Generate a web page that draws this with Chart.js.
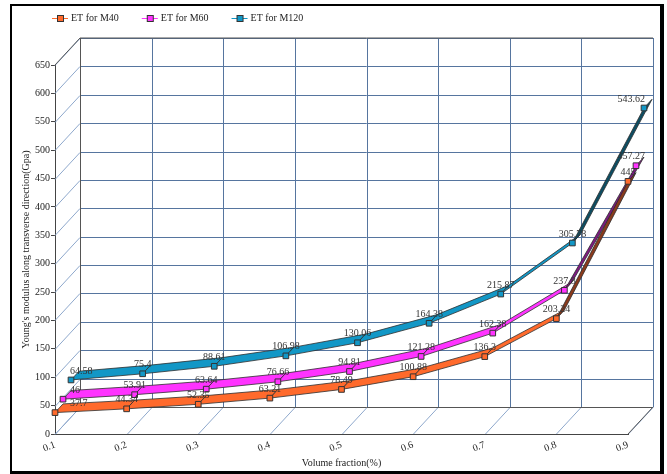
<!DOCTYPE html>
<html>
<head>
<meta charset="utf-8">
<script src="https://cdn.jsdelivr.net/npm/chart.js@4.4.0/dist/chart.umd.min.js"></script>
<style>
  html, body { margin: 0; padding: 0; background: #fff; }
  #wrap { position: relative; width: 667px; height: 474px; }
  #wrap canvas { position: absolute; left: 0; top: 0; }
  #frame {
    position: absolute; left: 10px; top: 4px; width: 648px; height: 465px;
    border: 2px solid #000; border-right-width: 4px; border-bottom-width: 3px;
    pointer-events: none;
  }
</style>
</head>
<body>
<div id="wrap">
  <canvas id="chart" width="667" height="474"></canvas>
  <div id="frame"></div>
</div>
<script>
// data
const fractions = ["0.1", "0.2", "0.3", "0.4", "0.5", "0.6", "0.7", "0.8", "0.9"];
const seriesNames = ["ET for M40", "ET for M60", "ET for M120"];
const m40 = [37.7, 44.34, 52.35, 63.21, 78.49, 100.88, 136.3, 203.24, 445];
const m60 = [46, 53.91, 63.64, 76.66, 94.81, 121.28, 162.38, 237.8, 457.27];
const m120 = [64.58, 75.4, 88.61, 106.98, 130.06, 164.38, 215.87, 305.78, 543.62];
const yMax = 650;
const yStep = 50;

const colors = ["#ff6a2c", "#ff33ff", "#1297c6"];
const darkColors = ["#8a3a1c", "#7d1a80", "#0d4d62"];
const serif = "'Liberation Serif', 'DejaVu Serif', serif";

// 3d look: wall depth, and each series ribbon sits a bit deeper
const wallDepth = { x: 25, y: -27 };
const ribbon = { x: 8, y: -8.7 };

let wall3d = {
  id: "wall3d",
  beforeDatasetsDraw(chart) {
    const ctx = chart.ctx;
    const xs = chart.scales.x, ys = chart.scales.y;
    const a = chart.chartArea;
    const dx = wallDepth.x, dy = wallDepth.y;
    ctx.save();
    ctx.lineWidth = 1;

    // left wall + floor diagonals
    ctx.strokeStyle = "#8ea8cc";
    for (let v = 0; v <= yMax; v += yStep) {
      const y = Math.round(ys.getPixelForValue(v)) + 0.5;
      ctx.beginPath();
      ctx.moveTo(a.left, y);
      ctx.lineTo(a.left + dx, y + dy);
      ctx.stroke();
    }
    fractions.forEach(function (f, i) {
      const x = Math.round(xs.getPixelForValue(i)) + 0.5;
      ctx.beginPath();
      ctx.moveTo(x, a.bottom);
      ctx.lineTo(x + dx, a.bottom + dy);
      ctx.stroke();
    });

    // back wall grid
    ctx.strokeStyle = "#56759f";
    for (let v = yStep; v <= yMax; v += yStep) {
      const y = Math.round(ys.getPixelForValue(v) + dy) + 0.5;
      ctx.beginPath();
      ctx.moveTo(a.left + dx, y);
      ctx.lineTo(a.right + dx, y);
      ctx.stroke();
    }
    fractions.forEach(function (f, i) {
      if (i === 0) return;
      const x = Math.round(xs.getPixelForValue(i) + dx) + 0.5;
      ctx.beginPath();
      ctx.moveTo(x, a.top + dy);
      ctx.lineTo(x, a.bottom + dy);
      ctx.stroke();
    });

    // wall edges
    ctx.strokeStyle = "#555";
    const bx = Math.round(a.left + dx) + 0.5;
    const by = Math.round(a.bottom + dy) + 0.5;
    ctx.beginPath();
    ctx.moveTo(bx, a.top + dy);
    ctx.lineTo(bx, by);
    ctx.lineTo(a.right + dx, by);
    ctx.stroke();
    ctx.beginPath();
    ctx.moveTo(a.left, a.top);
    ctx.lineTo(a.left + dx, a.top + dy);
    ctx.lineTo(a.right + dx, a.top + dy);
    ctx.stroke();
    ctx.beginPath();
    ctx.moveTo(a.right, a.bottom);
    ctx.lineTo(a.right + dx, a.bottom + dy);
    ctx.stroke();
    ctx.restore();
  },

  beforeDatasetDraw(chart, args) {
    const ctx = chart.ctx;
    const i = args.index;
    const pts = args.meta.data;
    ctx.save();
    ctx.translate(ribbon.x * i, ribbon.y * i);
    ctx.lineWidth = 0.8;
    ctx.strokeStyle = "#2d2d2d";
    ctx.lineJoin = "round";
    for (let k = 0; k < pts.length - 1; k++) {
      const p = pts[k], q = pts[k + 1];
      const slope = (p.y - q.y) / (q.x - p.x);
      const steep = slope > -ribbon.y / ribbon.x;
      ctx.beginPath();
      ctx.moveTo(p.x, p.y);
      ctx.lineTo(q.x, q.y);
      ctx.lineTo(q.x + ribbon.x, q.y + ribbon.y);
      ctx.lineTo(p.x + ribbon.x, p.y + ribbon.y);
      ctx.closePath();
      ctx.fillStyle = steep ? darkColors[i] : colors[i];
      ctx.fill();
      ctx.stroke();
    }
  },

  afterDatasetDraw(chart) {
    chart.ctx.restore();
  },

  afterDatasetsDraw(chart) {
    const ctx = chart.ctx;
    ctx.save();
    ctx.font = "10px " + serif;
    ctx.fillStyle = "#333";
    ctx.textBaseline = "middle";
    ctx.textAlign = "left";
    chart.data.datasets.forEach(function (ds, i) {
      const pts = chart.getDatasetMeta(i).data;
      pts.forEach(function (p, k) {
        const txt = String(ds.data[k]);
        const w = ctx.measureText(txt).width;
        let x = p.x + ribbon.x * i - w / 2;
        x = Math.max(70, Math.min(x, 645 - w));
        const y = p.y + ribbon.y * i - 9;
        ctx.fillText(txt, x, y);
      });
    });
    ctx.restore();
  },

  afterDraw(chart) {
    // legend: short line with a square marker, then the name
    const ctx = chart.ctx;
    ctx.save();
    ctx.font = "10px " + serif;
    ctx.textBaseline = "middle";
    let x = 52;
    const y = 18;
    seriesNames.forEach(function (name, i) {
      ctx.strokeStyle = colors[i];
      ctx.lineWidth = 1;
      ctx.beginPath();
      ctx.moveTo(x, y + 0.5);
      ctx.lineTo(x + 16, y + 0.5);
      ctx.stroke();
      ctx.fillStyle = colors[i];
      ctx.fillRect(x + 5.5, y - 2.5, 6, 6);
      ctx.strokeStyle = "#333";
      ctx.strokeRect(x + 5.5, y - 2.5, 6, 6);
      ctx.fillStyle = "#222";
      ctx.fillText(name, x + 19, y);
      x += 19 + ctx.measureText(name).width + 23;
    });
    ctx.restore();
  },
};

let makeSet = function (label, data, i) {
  return {
    label: label,
    data: data,
    showLine: false,
    clip: false,
    pointStyle: "rect",
    pointRadius: 4,
    pointBackgroundColor: colors[i],
    pointBorderColor: "#333",
    pointBorderWidth: 1,
    borderColor: colors[i],
    backgroundColor: colors[i],
  };
};

let tickFont = { family: serif, size: 10 };

new Chart(document.getElementById("chart").getContext("2d"), {
  type: "line",
  data: {
    labels: fractions,
    datasets: [
      makeSet(seriesNames[0], m40, 0),
      makeSet(seriesNames[1], m60, 1),
      makeSet(seriesNames[2], m120, 2),
    ],
  },
  options: {
    responsive: false,
    animation: false,
    events: [],
    layout: { padding: { left: 12, top: 65, right: 39, bottom: 0 } },
    plugins: {
      legend: { display: false },
      tooltip: { enabled: false },
    },
    scales: {
      x: {
        type: "category",
        offset: false,
        grid: { display: true, drawOnChartArea: false, drawTicks: false },
        border: { display: true, color: "#444", width: 1 },
        ticks: {
          autoSkip: false,
          minRotation: 20,
          maxRotation: 20,
          padding: 5,
          font: tickFont,
          color: "#222",
        },
        title: {
          display: true,
          text: "Volume fraction(%)",
          font: tickFont,
          color: "#222",
          padding: { top: 0, bottom: 5 },
        },
        afterFit: function (s) {
          s.height = 40;
        },
      },
      y: {
        min: 0,
        max: yMax,
        ticks: { stepSize: yStep, padding: 1, font: tickFont, color: "#222" },
        grid: { drawOnChartArea: false, tickLength: 4, color: "#444" },
        border: { display: true, color: "#444", width: 1 },
        title: {
          display: true,
          text: "Young's modulus along transverse direction(Gpa)",
          font: tickFont,
          color: "#222",
          padding: { top: 8, bottom: 2 },
        },
        afterFit: function (s) {
          s.width = 43;
        },
      },
    },
  },
  plugins: [wall3d],
});
</script>
</body>
</html>
